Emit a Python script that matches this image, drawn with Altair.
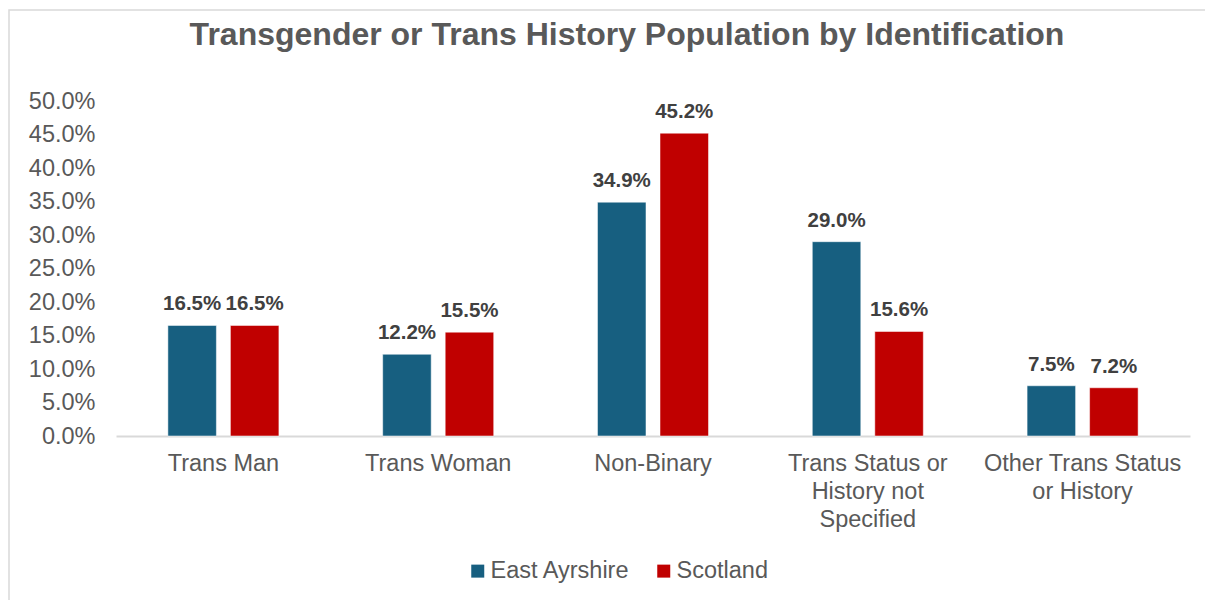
import altair as alt
import pandas as pd

categories = ["Trans Man", "Trans Woman", "Non-Binary",
              "Trans Status or|History not|Specified",
              "Other Trans Status|or History"]
series = ["East Ayrshire", "Scotland"]
east_ayrshire = [0.165, 0.122, 0.349, 0.290, 0.075]
scotland = [0.165, 0.155, 0.452, 0.156, 0.072]
y_ticks = [0.0, 0.05, 0.10, 0.15, 0.20, 0.25, 0.30, 0.35, 0.40, 0.45, 0.50]
colors = ["#175F80", "#C00000"]

rows = []
for c, a, s in zip(categories, east_ayrshire, scotland):
    rows.append({"Category": c, "Series": series[0], "Value": a})
    rows.append({"Category": c, "Series": series[1], "Value": s})
df = pd.DataFrame(rows)

FONT = "Liberation Sans"
GREY = "#595959"
FS = 23.5

base = alt.Chart(df).encode(
    x=alt.X("Category:N", sort=categories, title=None,
            scale=alt.Scale(paddingInner=0, paddingOuter=0),
            axis=alt.Axis(labelAngle=0, labelExpr="split(datum.label, '|')",
                          labelFontSize=FS, labelColor=GREY, labelFont=FONT,
                          labelLineHeight=28, labelPadding=15, labelLimit=0,
                          ticks=False, domainColor="#D9D9D9", domainWidth=2)),
    xOffset=alt.XOffset("Series:N", sort=series,
                        scale=alt.Scale(paddingInner=0.224, paddingOuter=0.83)),
    y=alt.Y("Value:Q", title=None,
            scale=alt.Scale(domain=[0, 0.5], nice=False),
            axis=alt.Axis(values=y_ticks, format=".1%", grid=False, domain=False,
                          ticks=False, labelFontSize=FS, labelColor=GREY,
                          labelFont=FONT, labelPadding=21)),
)

bars = base.mark_bar(stroke="white", strokeWidth=1, strokeOpacity=0.5).encode(
    color=alt.Color("Series:N", sort=series,
                    scale=alt.Scale(domain=series, range=colors),
                    legend=alt.Legend(title=None, orient="none", direction="horizontal",
                                      legendX=350, legendY=458,
                                      symbolType="square", symbolSize=169,
                                      symbolStrokeWidth=0, labelFontSize=FS,
                                      labelFont=FONT, labelColor=GREY,
                                      labelOffset=1, columnPadding=22))
)

labels = base.mark_text(baseline="alphabetic", dy=-15, fontSize=20.5,
                        fontWeight="bold", font=FONT, color="#404040").encode(
    text=alt.Text("Value:Q", format=".1%")
)

frame = alt.Chart(alt.Data(values=[{"f": 1}])).mark_rect(
    fill=None, stroke="#D9D9D9", strokeWidth=1.5
).encode(x=alt.value(-107), x2=alt.value(1094), y=alt.value(-91), y2=alt.value(620))

chart = alt.layer(frame, bars, labels).properties(
    width=1074, height=335,
    background="white",
    title=alt.TitleParams("Transgender or Trans History Population by Identification",
                          fontSize=32, font=FONT, fontWeight="bold", color=GREY,
                          anchor="middle", dx=-26, offset=-43),
    autosize=alt.AutoSizeParams(type="none"),
    padding={"left": 108, "top": 93, "right": 15, "bottom": 170},
).configure_view(stroke="transparent", strokeWidth=0)

chart.save("out.html", embed_options={"renderer": "svg", "actions": False})
